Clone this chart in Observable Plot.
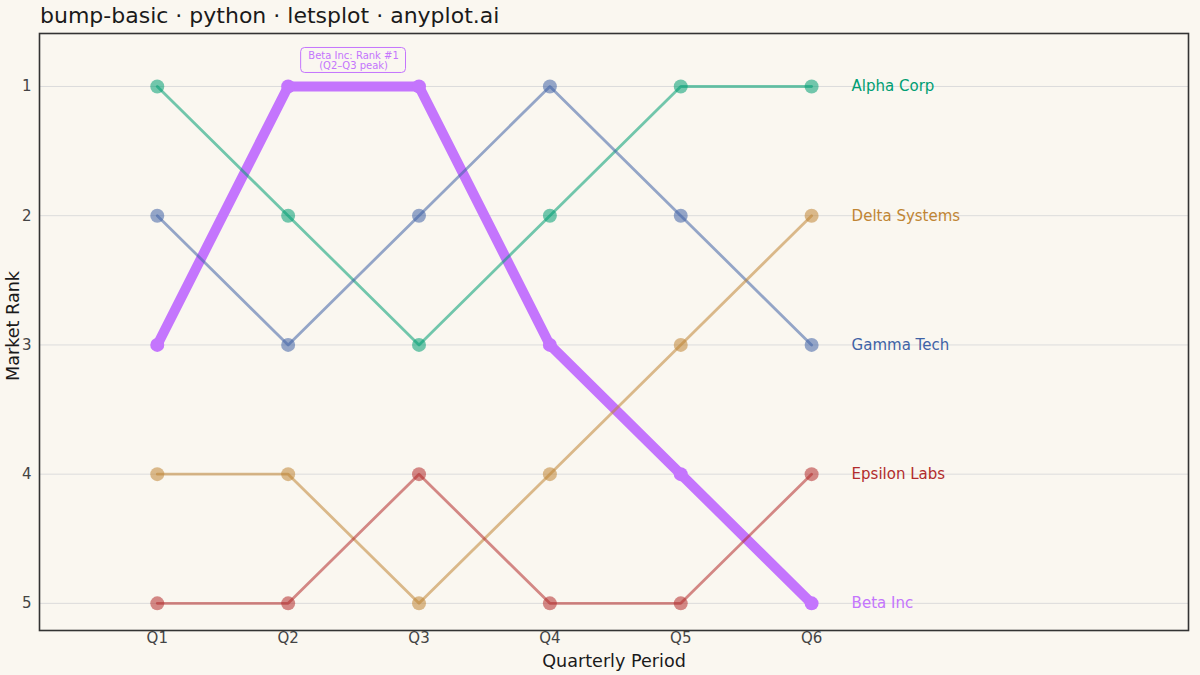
<!DOCTYPE html>
<html>
<head>
<meta charset="utf-8">
<script src="https://cdn.jsdelivr.net/npm/d3@7"></script>
<script src="https://cdn.jsdelivr.net/npm/@observablehq/plot@0.6"></script>
<style>
  html, body { margin: 0; padding: 0; background: #FAF7F0; }
  body { width: 1200px; height: 675px; overflow: hidden; font-family: "DejaVu Sans", sans-serif; }
  #title { height: 32px; line-height: 32px; padding-left: 40px; font-size: 22px; color: #1a1a1a; white-space: nowrap; }
  #chart svg { display: block; }
</style>
</head>
<body>
<div id="title">bump-basic · python · letsplot · anyplot.ai</div>
<div id="chart"></div>
<script>
const quarters = [1, 2, 3, 4, 5, 6];
const quarterLabels = ["Q1", "Q2", "Q3", "Q4", "Q5", "Q6"];
const companies = ["Alpha Corp", "Beta Inc", "Gamma Tech", "Delta Systems", "Epsilon Labs"];
const alphaRanks = [1, 2, 3, 2, 1, 1];
const betaRanks = [3, 1, 1, 3, 4, 5];
const gammaRanks = [2, 3, 2, 1, 2, 3];
const deltaRanks = [4, 4, 5, 4, 3, 2];
const epsilonRanks = [5, 5, 4, 5, 5, 4];
const colors = ["#009E73", "#C475FD", "#3F63A6", "#C08534", "#B22C2C"];
const rankTicks = [1, 2, 3, 4, 5];
const highlight = "Beta Inc";
const annotationText = "Beta Inc: Rank #1\n(Q2–Q3 peak)";
const peakQuarters = [2, 3];

const allRanks = [alphaRanks, betaRanks, gammaRanks, deltaRanks, epsilonRanks];
const rows = [];
companies.forEach((c, i) => quarters.forEach((q, j) => rows.push({company: c, q, rank: allRanks[i][j]})));
const lastRows = companies.map((c, i) => ({company: c, q: quarters[quarters.length - 1], rank: allRanks[i][quarters.length - 1]}));
const hl = rows.filter(d => d.company === highlight);
const others = rows.filter(d => d.company !== highlight);
const colorOf = c => colors[companies.indexOf(c)];
const peakRank = Math.min(...betaRanks);

const chart = Plot.plot({
  width: 1200,
  height: 643,
  marginTop: 1,
  marginBottom: 45,
  marginLeft: 39,
  marginRight: 12,
  style: {background: "#FAF7F0", fontFamily: "DejaVu Sans, sans-serif", fontSize: "15px", color: "#444"},
  x: {domain: [0.1, 8.88], ticks: quarters, tickFormat: d => quarterLabels[d - 1], label: null},
  y: {domain: [0.59, 5.21], reverse: true, ticks: rankTicks, tickFormat: d => String(d), label: null},
  marks: [
    Plot.gridY(rankTicks, {stroke: "#dcdcdc", strokeOpacity: 1, strokeWidth: 1}),
    Plot.axisY(rankTicks, {tickSize: 0, tickPadding: 8, fontSize: 15, fill: "#444", tickFormat: d => String(d), label: null}),
    Plot.axisX(quarters, {tickSize: 0, tickPadding: 2, fontSize: 15, fill: "#444", tickFormat: d => quarterLabels[d - 1], label: null}),
    Plot.line(hl, {x: "q", y: "rank", stroke: colorOf(highlight), strokeWidth: 10, strokeOpacity: 1, strokeLinejoin: "round", strokeLinecap: "round"}),
    Plot.dot(hl, {x: "q", y: "rank", r: 7, fill: colorOf(highlight), fillOpacity: 1}),
    Plot.line(others, {x: "q", y: "rank", z: "company", stroke: d => colorOf(d.company), strokeWidth: 2.8, strokeOpacity: 0.55}),
    Plot.dot(others, {x: "q", y: "rank", r: 7, fill: d => colorOf(d.company), fillOpacity: 0.55}),
    Plot.text(lastRows, {x: "q", y: "rank", text: "company", fill: d => colorOf(d.company), textAnchor: "start", dx: 40, fontSize: 15}),
    Plot.rect([{x1: peakQuarters[0], x2: peakQuarters[1], y: peakRank}], {x1: "x1", x2: "x2", y1: "y", y2: "y", insetLeft: 13, insetRight: 13, insetTop: -12.5, insetBottom: -12.5, dy: -26, rx: 4, fill: "#FAF7F0", stroke: colorOf(highlight), strokeWidth: 1}),
    Plot.text([{x: (peakQuarters[0] + peakQuarters[1]) / 2, y: peakRank}], {x: "x", y: "y", text: () => annotationText, dy: -26, fontSize: 10, lineHeight: 1.1, fill: colorOf(highlight)}),
    Plot.text(["Market Rank"], {frameAnchor: "left", textAnchor: "middle", rotate: -90, dx: -26, dy: -6, fontSize: 17.6, fill: "#1a1a1a"}),
    Plot.text(["Quarterly Period"], {frameAnchor: "bottom", textAnchor: "middle", dy: 36, fontSize: 17.6, fill: "#1a1a1a"}),
    Plot.frame({stroke: "#333", strokeWidth: 1.6})
  ]
});
document.getElementById("chart").appendChild(chart);
</script>
</body>
</html>
